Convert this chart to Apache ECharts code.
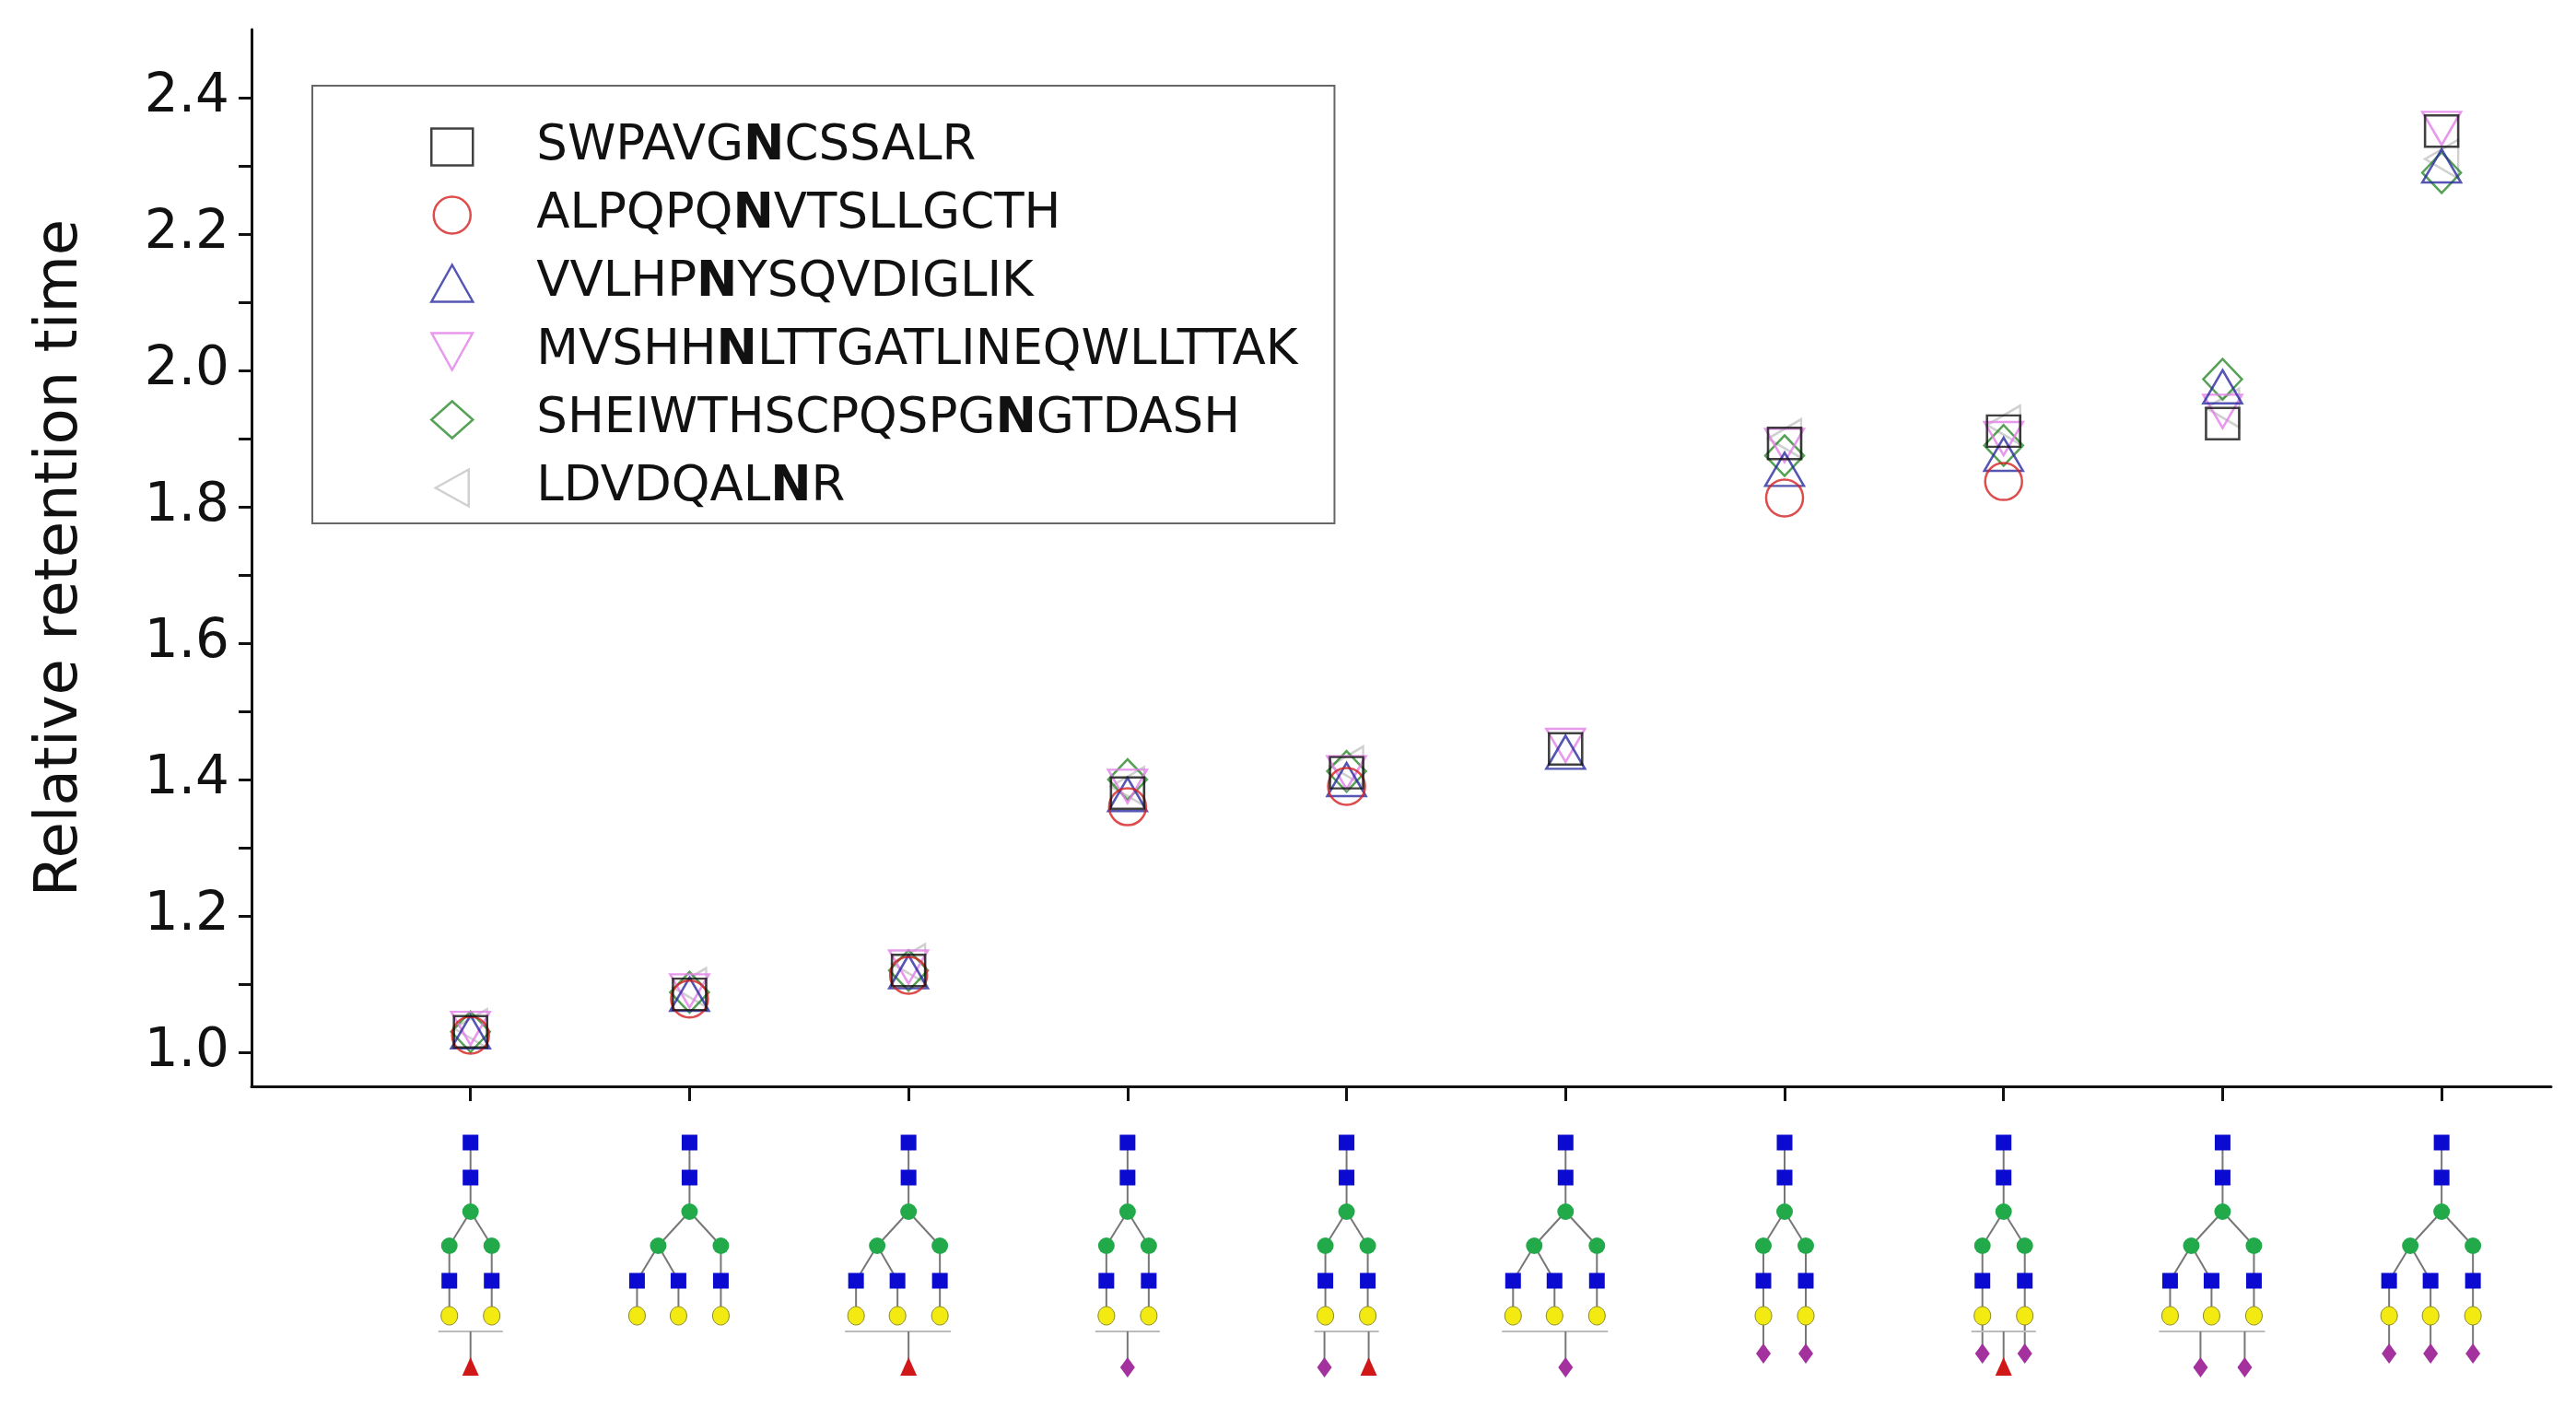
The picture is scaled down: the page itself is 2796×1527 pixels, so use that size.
<!DOCTYPE html>
<html><head><meta charset="utf-8">
<script src="https://cdn.jsdelivr.net/npm/echarts@6/dist/echarts.min.js"></script>
<style>html,body{margin:0;padding:0;background:#fff}#c{width:2796px;height:1527px}</style>
</head><body><div id="c"></div>
<script>
const categories = [1,2,3,4,5,6,7,8,9,10];
const seriesNames = ['SWPAVGNCSSALR','ALPQPQNVTSLLGCTH','VVLHPNYSQVDIGLIK','MVSHHNLTTGATLINEQWLLTTAK','SHEIWTHSCPQSPGNGTDASH','LDVDQALNR'];
const swpavg = [1.03,1.085,1.12,1.38,1.41,1.445,1.893,1.911,1.922,2.351];
const alpqpq = [1.025,1.078,1.113,1.36,1.39,null,1.813,1.837,null,null];
const vvlhpn = [1.03,1.085,1.118,1.378,1.40,1.44,1.855,1.877,1.976,2.30];
const mvshhn = [1.035,1.09,1.125,1.39,1.41,1.45,1.89,1.90,1.94,2.355];
const sheiwt = [1.03,1.088,1.12,1.40,1.412,null,1.875,1.89,1.987,2.29];
const ldvdqa = [1.035,1.095,1.13,1.39,1.42,null,1.90,1.92,1.945,2.31];
const yTicks = [1.0,1.1,1.2,1.3,1.4,1.5,1.6,1.7,1.8,1.9,2.0,2.1,2.2,2.3,2.4];
const yLabels = [1.0,1.2,1.4,1.6,1.8,2.0,2.2,2.4];
// glycan structures per category
const glycanAntennae = [2,3,3,2,2,3,2,2,3,3];
const glycanAttachedSia = [0,0,0,0,0,0,2,2,0,3];
const glycanFloating = [['F'],[],['F'],['S'],['S','F'],['S'],[],['F'],['S','S'],[]];

const allValues = [swpavg, alpqpq, vvlhpn, mvshhn, sheiwt, ldvdqa];
const symbols = ['rect','circle','triangle','triangle','diamond','triangle'];
const legendIcons = ['rect','circle','triangle','path://M0,0 L10,0 L5,9 Z','diamond','path://M0,5 L9,0 L9,10 Z'];
const rotates = [0,0,0,180,0,90];
const colors = ['#111','#d42020','#2a2aa0','#e27ee8','#2a8a2a','#c4c4c4'];
const sizes = [[36,34],40,[42,36],[42,36],[42,44],[42,36]];

const BLUE='#0a0ad0', GREEN='#22aa4a', YEL='#f2ea10', PUR='#a3329e', RED='#d01818', LINE='#777';
function glyph(type, x, y){
  const s=17;
  if(type==='B') return {type:'rect',shape:{x:x-s/2,y:y-s/2,width:s,height:s},style:{fill:BLUE}};
  if(type==='G') return {type:'circle',shape:{cx:x,cy:y,r:9},style:{fill:GREEN}};
  if(type==='Y') return {type:'ellipse',shape:{cx:x,cy:y,rx:9,ry:10},style:{fill:YEL,stroke:'#8a8a30',lineWidth:1}};
  if(type==='S') return {type:'polygon',shape:{points:[[x,y-11],[x+8,y],[x,y+11],[x-8,y]]},style:{fill:PUR}};
  return {type:'polygon',shape:{points:[[x,y-11],[x+9,y+9],[x-9,y+9]]},style:{fill:RED}};
}
function ln(x1,y1,x2,y2){return {type:'line',shape:{x1,y1,x2,y2},style:{stroke:LINE,lineWidth:2}};}

function renderGlycan(params, api){
  const i = params.dataIndex;
  const p = api.coord([api.value(0), 0.95]);
  const cx=p[0], by=p[1];
  const L=[61,99,136,173,211,249];
  const ch=[];
  const nodes=[];
  ch.push(ln(cx,by+L[0],cx,by+L[2]));
  nodes.push(glyph('B',cx,by+L[0]),glyph('B',cx,by+L[1]),glyph('G',cx,by+L[2]));
  const tri = glycanAntennae[i]===3;
  const man = tri?[-34,34]:[-23,23];
  const ant = tri?[[-57,-34],[-12,-34],[34,34]]:[[-23,-23],[23,23]];
  man.forEach(m=>{ch.push(ln(cx,by+L[2],cx+m,by+L[3]));nodes.push(glyph('G',cx+m,by+L[3]));});
  ant.forEach((a,k)=>{
    const ax=cx+a[0];
    ch.push(ln(cx+a[1],by+L[3],ax,by+L[4]), ln(ax,by+L[4],ax,by+L[5]));
    nodes.push(glyph('B',ax,by+L[4]),glyph('Y',ax,by+L[5]));
    if(k<glycanAttachedSia[i]){ch.push(ln(ax,by+L[5],ax,by+290));nodes.push(glyph('S',ax,by+290));}
  });
  const fl = glycanFloating[i];
  if(fl.length){
    const xs = ant.map(a=>cx+a[0]);
    const x0=Math.min(...xs)-12, x1=Math.max(...xs)+12;
    ch.push({type:'line',shape:{x1:x0,y1:by+266,x2:x1,y2:by+266},style:{stroke:'#bbb',lineWidth:2}});
    const n=fl.length;
    fl.forEach((t,k)=>{
      const fx = n===1?cx: cx + (k===0?-24:24);
      ch.push(ln(fx,by+266,fx,by+300));
      nodes.push(glyph(t,fx,by+305));
    });
  }
  return {type:'group',children:ch.concat(nodes)};
}

const FONT='DejaVu Sans';
const rich = {n:{fontWeight:'bold',fontSize:53,fontFamily:FONT,color:'#111'}};
function fmt(name){
  const idx = {SWPAVGNCSSALR:6,ALPQPQNVTSLLGCTH:6,VVLHPNYSQVDIGLIK:5,MVSHHNLTTGATLINEQWLLTTAK:5,SHEIWTHSCPQSPGNGTDASH:14,LDVDQALNR:7}[name];
  return name.slice(0,idx)+'{n|'+name[idx]+'}'+name.slice(idx+1);
}

const series = seriesNames.map((nm,s)=>({
  name:nm, type:'scatter', symbol:symbols[s], symbolRotate:rotates[s], symbolSize:sizes[s],
  itemStyle:{color:'rgba(255,255,255,0)',borderColor:colors[s],borderWidth:2.5},
  data: categories.map((c,k)=>allValues[s][k]==null?null:[c,allValues[s][k]]).filter(d=>d),
  z:10-s
}));
series.push({type:'custom',name:'glycans',renderItem:renderGlycan,clip:false,silent:true,
  data:categories.map(c=>[c]),encode:{x:0},z:1});

const chart = echarts.init(document.getElementById('c'));
chart.setOption({
  animation:false,
  backgroundColor:'#fff',
  grid:{left:273,right:27,top:32,bottom:348},
  legend:{
    data:seriesNames.map((n,s)=>({name:n,icon:legendIcons[s],itemStyle:{color:'rgba(255,255,255,0)',borderColor:colors[s],borderWidth:2.5}})),
    orient:'vertical', left:339, top:93,
    padding:[40,40,12,128], itemGap:21, itemWidth:45, itemHeight:40,
    borderColor:'#666', borderWidth:2, backgroundColor:'#fff',
    formatter:fmt,
    textStyle:{fontSize:53,fontFamily:FONT,color:'#111',padding:[0,0,0,64],rich:rich}
  },
  xAxis:{type:'value',min:0,max:10.5,
    axisLine:{lineStyle:{color:'#111',width:3}},
    axisTick:{show:true,inside:false,length:16,customValues:categories,lineStyle:{color:'#111',width:3}},
    axisLabel:{show:false},splitLine:{show:false}},
  yAxis:{type:'value',min:0.95,max:2.5,
    name:'Relative retention time',nameLocation:'middle',nameGap:175,
    nameTextStyle:{fontSize:64,fontFamily:FONT,color:'#111'},
    axisLine:{show:true,lineStyle:{color:'#111',width:3}},
    axisTick:{show:true,length:14,customValues:yTicks,lineStyle:{color:'#111',width:3}},
    axisLabel:{customValues:yLabels,fontSize:58,fontFamily:FONT,color:'#111',margin:24,
      formatter:v=>v.toFixed(1)},
    splitLine:{show:false}},
  series:series
});
</script></body></html>
